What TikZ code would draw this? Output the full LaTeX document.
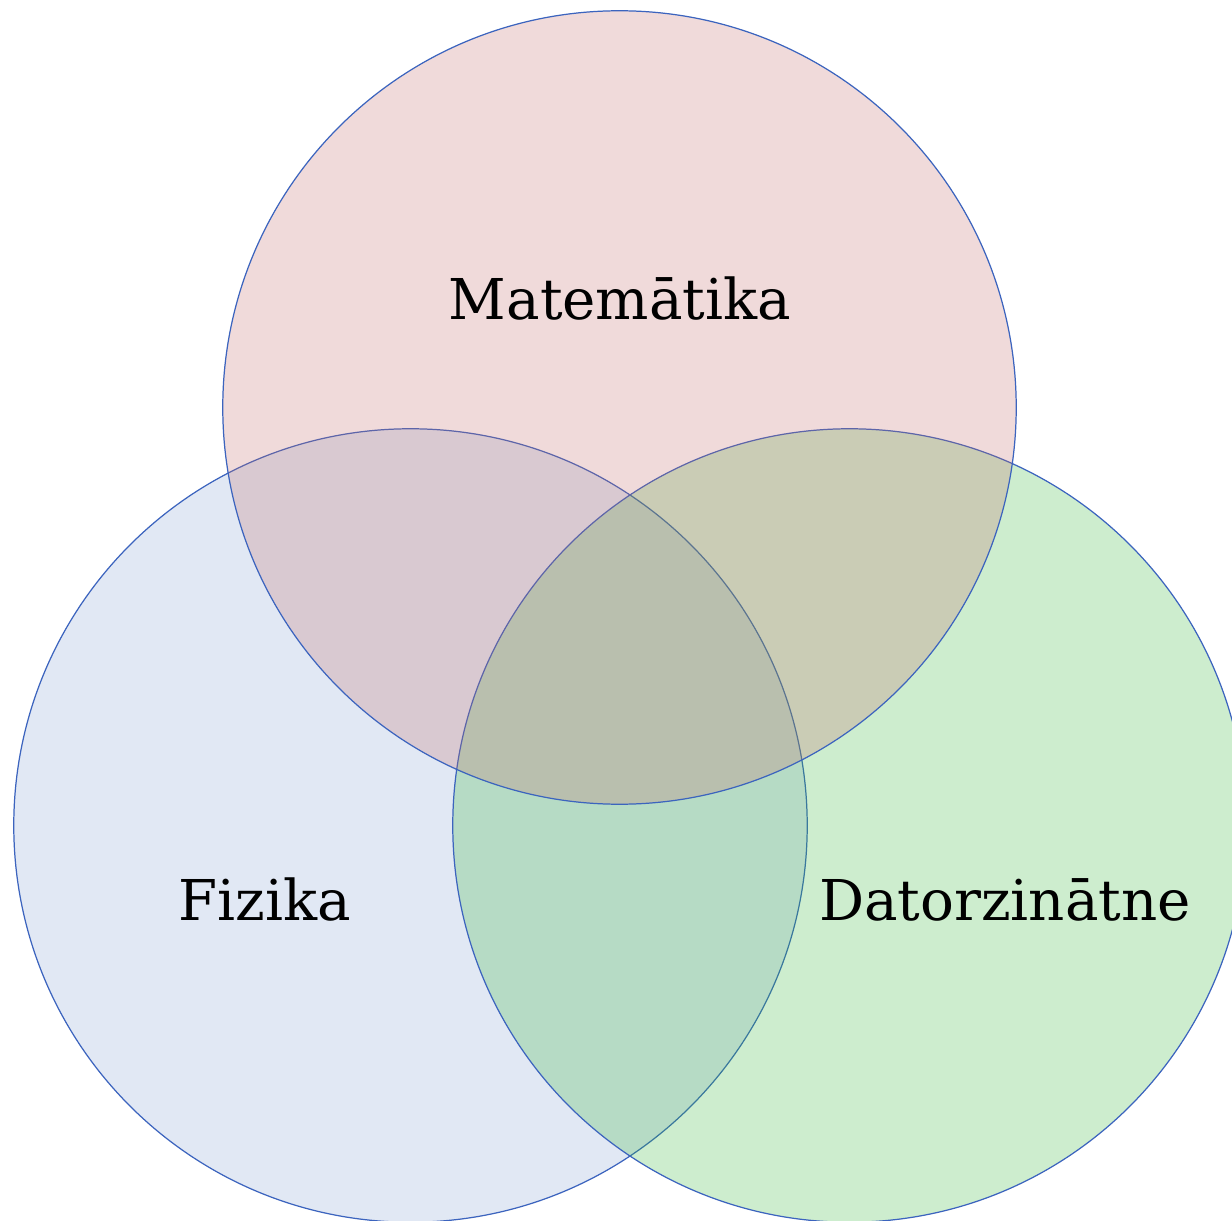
\documentclass[tikz,border=0pt]{standalone}
\usepackage{fontspec}
\setmainfont{DejaVu Serif}
\usepackage{xcolor}
\usetikzlibrary{positioning}

\definecolor{setline}{RGB}{60,100,190}
\definecolor{matcol}{RGB}{195,107,107}
\definecolor{fizcol}{RGB}{135,163,211}
\definecolor{datcol}{RGB}{55,183,59}

\begin{document}
\begin{tikzpicture}[
        x=0.01cm, y=-0.01cm,
        every node/.style={font=\fontsize{16}{19}\selectfont},
        set/.style={draw=setline, line width=0.35pt, circle, minimum size=7.93cm, inner sep=0pt, fill opacity=0.25, draw opacity=1},
        lbl/.style={anchor=base, inner sep=0pt}
    ]

    \useasboundingbox (0,0) rectangle (1232,1221);

    \node[set, fill=fizcol] (fizika) at (410.5,825.5) {};
    \node[set, fill=datcol] (dator) at (849.5,825.5) {};
    \node[set, fill=matcol] (matem) at (619.5,407.5) {};

    \node[lbl] (matlbl) at (620,320) {Matemātika};
    \node[lbl] (fizlbl) at (265,920) {Fizika};
    \node[lbl] (datlbl) at (1005,920) {Datorzinātne};

\end{tikzpicture}
\end{document}
